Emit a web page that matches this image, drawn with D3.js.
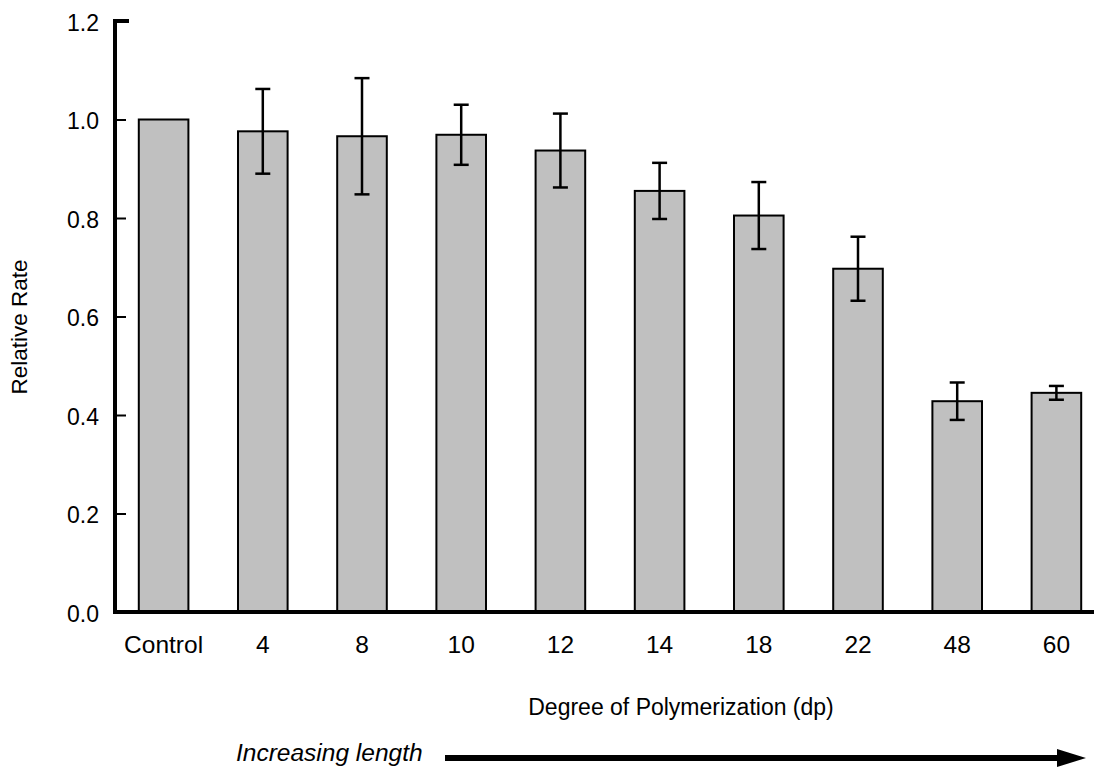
<!DOCTYPE html>
<html>
<head>
<meta charset="utf-8">
<script src="https://cdn.jsdelivr.net/npm/d3@7"></script>
<style>
  body { margin: 0; background: #fff; }
  text { font-family: "Liberation Sans", Arial, Helvetica, sans-serif; fill: #000; }
</style>
</head>
<body>
<div id="main"></div>
<script>
// chart data
const categories = ["Control", "4", "8", "10", "12", "14", "18", "22", "48", "60"];
const relRate = [1.0, 0.976, 0.966, 0.969, 0.937, 0.855, 0.805, 0.697, 0.428, 0.445];
const errHalf = [null, 0.086, 0.118, 0.061, 0.075, 0.057, 0.068, 0.065, 0.038, 0.014];
const yTicks = [0, 0.2, 0.4, 0.6, 0.8, 1.0, 1.2];

const width = 1094;
const height = 767;
const axisX = 115;
const axisY = 612;

const svg = d3.select("#main")
  .append("svg")
  .attr("width", width)
  .attr("height", height);

const xScale = d3.scaleBand()
  .domain(categories)
  .range([114, 1106])
  .paddingInner(0.5)
  .paddingOuter(0.25);

const yScale = d3.scaleLinear()
  .domain([0, 1.2])
  .range([axisY, 21]);

const dataset = categories.map((c, i) => ({ cat: c, v: relRate[i], e: errHalf[i] }));

// bars
svg.append("g")
  .selectAll("rect")
  .data(dataset)
  .enter()
  .append("rect")
  .attr("x", d => xScale(d.cat))
  .attr("y", d => yScale(d.v))
  .attr("width", xScale.bandwidth())
  .attr("height", d => yScale(0) - yScale(d.v))
  .attr("fill", "#c0c0c0")
  .attr("stroke", "#000")
  .attr("stroke-width", 2);

// error bars
const errG = svg.append("g")
  .attr("stroke", "#000")
  .attr("stroke-width", 2.5);
const withErr = dataset.filter(d => d.e != null);
const cx = d => xScale(d.cat) + xScale.bandwidth() / 2;
errG.selectAll(".stem")
  .data(withErr)
  .enter()
  .append("line")
  .attr("x1", cx).attr("x2", cx)
  .attr("y1", d => yScale(d.v + d.e))
  .attr("y2", d => yScale(d.v - d.e));
errG.selectAll(".capTop")
  .data(withErr)
  .enter()
  .append("line")
  .attr("x1", d => cx(d) - 7.5).attr("x2", d => cx(d) + 7.5)
  .attr("y1", d => yScale(d.v + d.e))
  .attr("y2", d => yScale(d.v + d.e));
errG.selectAll(".capBot")
  .data(withErr)
  .enter()
  .append("line")
  .attr("x1", d => cx(d) - 7.5).attr("x2", d => cx(d) + 7.5)
  .attr("y1", d => yScale(d.v - d.e))
  .attr("y2", d => yScale(d.v - d.e));

// y axis: ticks pointing inward
const yAxis = d3.axisRight(yScale)
  .tickValues(yTicks)
  .tickSize(11)
  .tickFormat(d3.format(".1f"));
svg.append("g")
  .attr("transform", `translate(${axisX}, 0)`)
  .call(yAxis)
  .call(g => g.select(".domain").remove())
  .call(g => g.selectAll(".tick line").attr("stroke", "#000").attr("stroke-width", 2))
  .call(g => g.selectAll(".tick text")
    .attr("x", -16)
    .attr("dy", "0.4em")
    .attr("text-anchor", "end")
    .style("font-size", "23px")
    .style("font-family", "'Liberation Sans', Arial, sans-serif"));

// top cap of the y axis
svg.append("line")
  .attr("x1", axisX).attr("x2", axisX + 14)
  .attr("y1", yScale(1.2)).attr("y2", yScale(1.2))
  .attr("stroke", "#000").attr("stroke-width", 4);

// y axis line
svg.append("line")
  .attr("x1", axisX).attr("x2", axisX)
  .attr("y1", yScale(1.2) - 2).attr("y2", axisY + 2)
  .attr("stroke", "#000").attr("stroke-width", 4);

// x axis line + labels
const xAxis = d3.axisBottom(xScale).tickSize(0).tickPadding(23.5);
svg.append("g")
  .attr("transform", `translate(0, ${axisY})`)
  .call(xAxis)
  .call(g => g.select(".domain").remove())
  .call(g => g.selectAll(".tick text")
    .style("font-size", "24.5px")
    .style("font-family", "'Liberation Sans', Arial, sans-serif"));

svg.append("line")
  .attr("x1", axisX - 2).attr("x2", width)
  .attr("y1", axisY).attr("y2", axisY)
  .attr("stroke", "#000").attr("stroke-width", 4);

// titles
svg.append("text")
  .attr("transform", `translate(27, 327) rotate(-90)`)
  .attr("text-anchor", "middle")
  .style("font-size", "22.5px")
  .text("Relative Rate");

svg.append("text")
  .attr("x", 681)
  .attr("y", 715)
  .attr("text-anchor", "middle")
  .style("font-size", "23px")
  .text("Degree of Polymerization (dp)");

svg.append("text")
  .attr("x", 236)
  .attr("y", 761)
  .style("font-size", "24.5px")
  .style("font-style", "italic")
  .text("Increasing length");

// arrow
svg.append("line")
  .attr("x1", 445).attr("x2", 1062)
  .attr("y1", 758).attr("y2", 758)
  .attr("stroke", "#000").attr("stroke-width", 6);
svg.append("path")
  .attr("d", "M1057,749 L1086,758 L1057,767 Z")
  .attr("fill", "#000");
</script>
</body>
</html>
